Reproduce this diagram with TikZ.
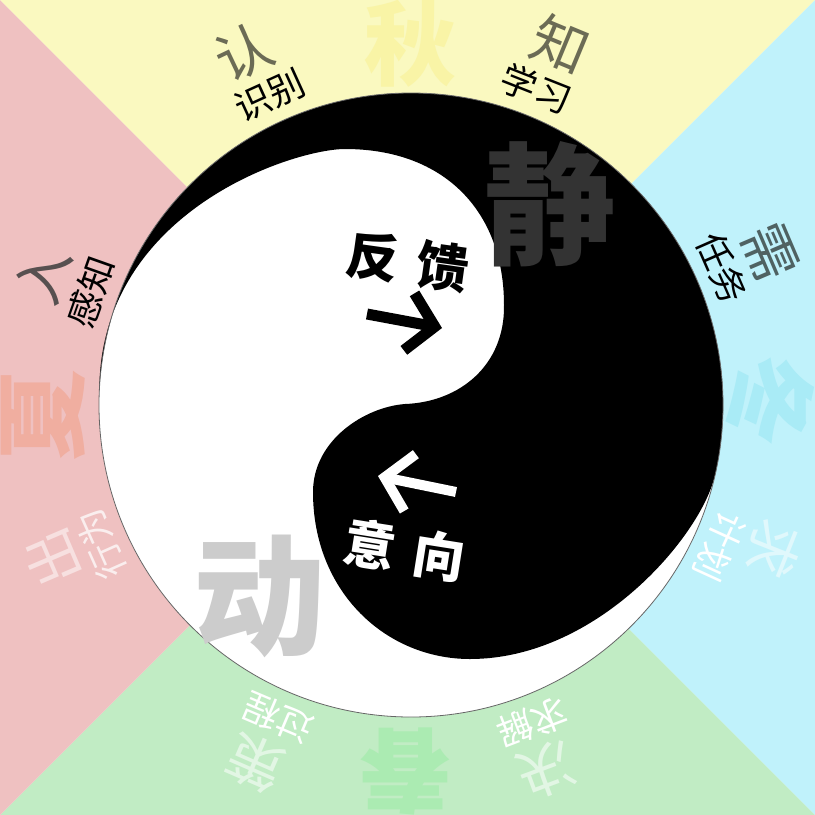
\documentclass[tikz,border=0pt]{standalone}
\usepackage{fontspec}
\setmainfont{Noto Sans CJK SC}
\usepackage{xcolor}
\usepackage{tikz}
\usetikzlibrary{arrows.meta,calc}
\definecolor{taijiAutumn}{HTML}{FAF9C0}
\definecolor{taijiWinter}{HTML}{C0F2FB}
\definecolor{taijiSpring}{HTML}{C1ECC4}
\definecolor{taijiSummer}{HTML}{EFC1C1}
\definecolor{taijiAutumnInk}{HTML}{F9F4A6}
\definecolor{taijiWinterInk}{HTML}{A9EBF6}
\definecolor{taijiSpringInk}{HTML}{ABEBB2}
\definecolor{taijiSummerInk}{HTML}{F0AEA0}
\definecolor{taijiRing}{HTML}{666666}
\definecolor{inkIn}{HTML}{575050}
\definecolor{inkKnow}{HTML}{6B6B55}
\definecolor{inkNeed}{HTML}{4F6262}
\definecolor{inkSeek}{HTML}{E0F8FC}
\definecolor{inkSpring}{HTML}{E2F6E4}
\definecolor{inkOut}{HTML}{F7E0E0}
\definecolor{inkOutSub}{HTML}{FAEEEE}

\begin{document}
\begin{tikzpicture}[
  x=1pt, y=-1pt,
  every node/.style={inner sep=0pt},
  season/.style={font=\fontsize{92}{92}\selectfont\bfseries},
  mood/.style={font=\fontsize{132}{132}\selectfont\bfseries},
  tag/.style={font=\fontsize{56}{56}\selectfont},
  subtag/.style={font=\fontsize{36}{36}\selectfont},
  flowtext/.style={font=\fontsize{52}{52}\selectfont\bfseries},
  bigarrow/.style={line width=11pt, -{Straight Barb[length=26pt,width=58pt]}}
]
  \useasboundingbox (0,0) rectangle (815,815);
  \coordinate (C) at (411,405);
  \coordinate (M) at (407.5,407.5);

  % four seasons
  \fill[taijiAutumn] (0,0) -- (815,0) -- (M) -- cycle;
  \fill[taijiWinter] (815,0) -- (815,815) -- (M) -- cycle;
  \fill[taijiSpring] (815,815) -- (0,815) -- (M) -- cycle;
  \fill[taijiSummer] (0,815) -- (0,0) -- (M) -- cycle;

  \node[season, text=taijiAutumnInk] (autumn) at (410,44) {秋};
  \node[season, text=taijiWinterInk, rotate=-90] (winter) at (770,400) {冬};
  \node[season, text=taijiSpringInk, rotate=180] (spring) at (405,771) {春};
  \node[season, text=taijiSummerInk, rotate=90] (summer) at (43,415) {夏};

  % taiji
  \fill[white] (C) circle[radius=312];
  \fill[black] ($(C)+(-177.5:312)$)
    .. controls (99,211) and (294,149) .. (345,149)
    .. controls (445,149) and (504,212) .. (504,305)
    .. controls (505,365) and (460,402) .. (405,404)
    .. controls (365,407) and (313,440) .. (313,492)
    .. controls (313,592) and (386,659) .. (470,659)
    .. controls (597,659) and (701,536) .. ($(C)+(13:312)$)
    arc[start angle=13, end angle=-177.5, radius=312] -- cycle;
  \draw[taijiRing, line width=0.8pt] (C) circle[radius=312];

  \node[mood, text=black!80] (still) at (550,204) {静};
  \node[mood, text=black!20] (move) at (259,596) {动};

  \node[flowtext, rotate=-8] (feedback) at (408,262) {反\hspace{18pt}馈};
  \node[flowtext, text=white, rotate=-9] (intent) at (405,550) {意\hspace{18pt}向};

  \coordinate (fbtail) at (367,314);
  \coordinate (fbtip) at (442,328);
  \coordinate (intail) at (456,492);
  \coordinate (intip) at (378,476);
  \draw[bigarrow, black] (fbtail) -- (fbtip);
  \draw[bigarrow, white, line width=10pt] (intail) -- (intip);

  % ring of labels
  \foreach \bigang/\smallang/\bigch/\smallch/\bigcol/\smallcol [count=\i] in {
      -160.5/-160.5/入/感知/inkIn/black,
      -115.4/-114.5/认/识别/inkKnow/black,
      -67.5/-68.4/知/学习/inkKnow/black,
      -23.1/-23.7/需/任务/inkNeed/black,
      21.7/24.6/求/计划/inkSeek/white,
      69.6/69.1/决/求解/inkSpring/white,
      113.5/113/策/过程/inkSpring/white,
      156.8/155.9/出/行为/inkOut/inkOutSub} {
    \node[tag, text=\bigcol, rotate={-1*(\bigang)-90}] (tag\i) at ($(C)+(\bigang:390)$) {\bigch};
    \node[subtag, text=\smallcol, rotate={-1*(\smallang)-90}] (sub\i) at ($(C)+(\smallang:340)$) {\smallch};
  }
\end{tikzpicture}
\end{document}
